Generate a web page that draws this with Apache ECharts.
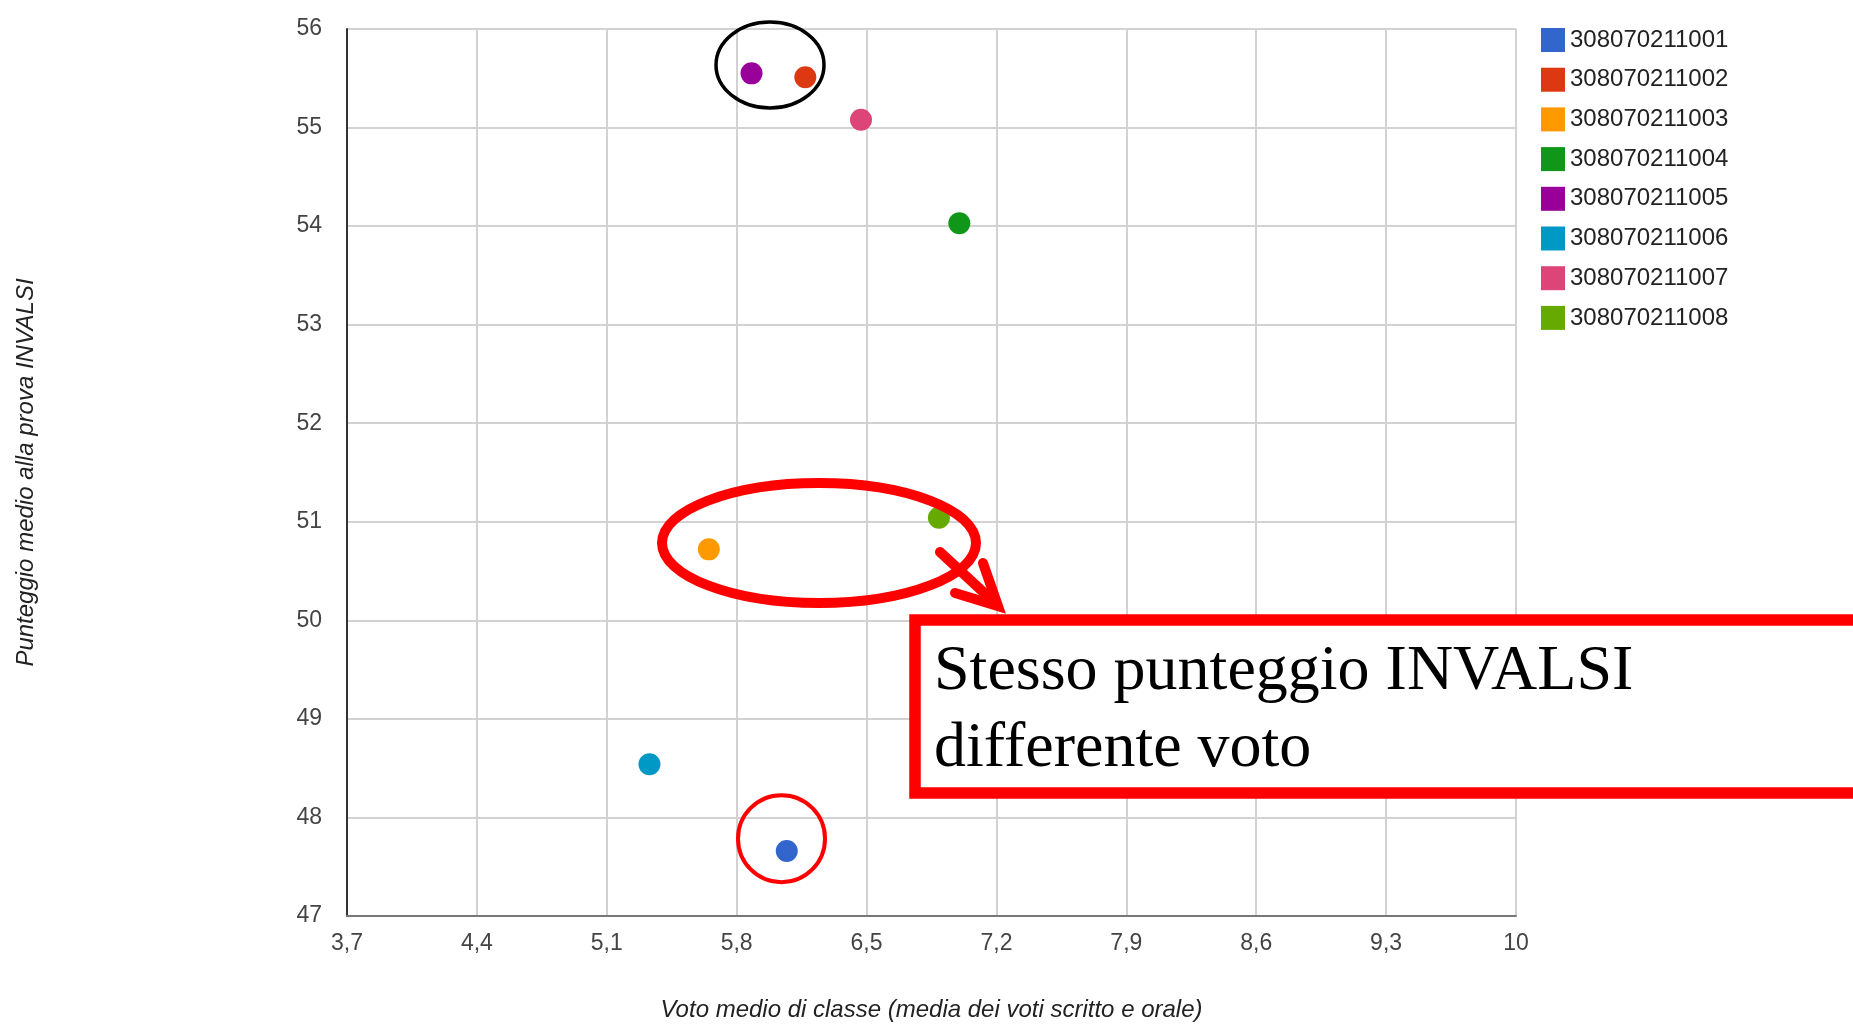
<!DOCTYPE html>
<html>
<head>
<meta charset="utf-8">
<style>
  html, body { margin: 0; padding: 0; background: #fff; }
  #chart { width: 1853px; height: 1027px; }
</style>
<script src="https://cdn.jsdelivr.net/npm/echarts@6/dist/echarts.min.js"></script>
</head>
<body>
<div id="chart"></div>
<script>
// ---- data ----
var seriesNames = ['308070211001','308070211002','308070211003','308070211004','308070211005','308070211006','308070211007','308070211008'];
var votoMedio = [6.07, 6.17, 5.65, 7.00, 5.88, 5.33, 6.47, 6.89];
var punteggioMedio = [47.66, 55.51, 50.72, 54.03, 55.55, 48.54, 55.08, 51.04];
var seriesColors = ['#3366cc','#dc3912','#ff9900','#109618','#990099','#0099c6','#dd4477','#66aa00'];
var xTickMin = 3.7, xTickMax = 10, xTickStep = 0.7;
var yTickMin = 47, yTickMax = 56, yTickStep = 1;
var xTitle = 'Voto medio di classe (media dei voti scritto e orale)';
var yTitle = 'Punteggio medio alla prova INVALSI';
var noteLines = ['Stesso punteggio INVALSI', 'differente voto'];

var chart = echarts.init(document.getElementById('chart'), null, { renderer: 'canvas' });

var series = seriesNames.map(function (name, i) {
  return {
    name: name,
    type: 'scatter',
    symbol: 'circle',
    symbolSize: 22,
    itemStyle: { color: seriesColors[i], opacity: 1 },
    data: [[votoMedio[i], punteggioMedio[i]]],
    z: 3
  };
});

var RED = '#ff0000';
var SERIF = '64px "Liberation Serif", "Times New Roman", serif';
var option = {
  animation: false,
  backgroundColor: '#ffffff',
  textStyle: { fontFamily: 'Liberation Sans, Arial, sans-serif' },
  grid: { left: 347, right: 337, top: 29, bottom: 106, containLabel: false },
  legend: {
    orient: 'vertical',
    left: 1541,
    top: 28,
    padding: 0,
    icon: 'rect',
    itemWidth: 24,
    itemHeight: 24,
    itemGap: 15.7,
    textStyle: { fontSize: 24, color: '#222', fontFamily: 'Liberation Sans, Arial, sans-serif' },
    data: seriesNames
  },
  xAxis: {
    type: 'value',
    min: xTickMin,
    max: xTickMax,
    interval: xTickStep,
    name: xTitle,
    nameLocation: 'middle',
    nameGap: 82,
    nameTextStyle: { fontSize: 24, fontStyle: 'italic', color: '#222' },
    axisLine: { show: true, onZero: false, lineStyle: { color: '#777', width: 2 } },
    axisTick: { show: false },
    axisLabel: {
      fontSize: 23, color: '#444', margin: 16,
      formatter: function (v) { return String(Math.round(v * 10) / 10).replace('.', ','); }
    },
    splitLine: { show: true, lineStyle: { color: '#d2d2d2', width: 2 } }
  },
  yAxis: {
    type: 'value',
    min: yTickMin,
    max: yTickMax,
    interval: yTickStep,
    name: yTitle,
    nameLocation: 'middle',
    nameGap: 309,
    nameTextStyle: { fontSize: 24, fontStyle: 'italic', color: '#222' },
    axisLine: { show: true, onZero: false, lineStyle: { color: '#333', width: 2 } },
    axisTick: { show: false },
    axisLabel: { fontSize: 23, color: '#444', margin: 25 },
    splitLine: { show: true, lineStyle: { color: '#d2d2d2', width: 2 } }
  },
  series: series,
  graphic: [
    { type: 'ellipse', shape: { cx: 770, cy: 65, rx: 54, ry: 43 },
      style: { fill: 'none', stroke: '#000', lineWidth: 3.5 }, z: 10 },
    { type: 'ellipse', shape: { cx: 819, cy: 543, rx: 157, ry: 60 },
      style: { fill: 'none', stroke: RED, lineWidth: 10 }, z: 10 },
    { type: 'circle', shape: { cx: 781.5, cy: 838.7, r: 43.5 },
      style: { fill: 'none', stroke: RED, lineWidth: 4 }, z: 10 },
    { type: 'line', shape: { x1: 940, y1: 552, x2: 994, y2: 602 },
      style: { stroke: RED, lineWidth: 10, lineCap: 'round' }, z: 10 },
    { type: 'polyline', shape: { points: [[955, 593], [998, 606], [983, 563]] },
      style: { fill: 'none', stroke: RED, lineWidth: 10, lineCap: 'round', lineJoin: 'miter', miterLimit: 10 }, z: 10 },
    { type: 'rect', shape: { x: 915, y: 620, width: 1000, height: 173 },
      style: { fill: '#ffffff', stroke: RED, lineWidth: 11.5 }, z: 11 },
    { type: 'text', x: 934, y: 672, z: 12,
      style: { text: noteLines[0], fill: '#000', font: SERIF, textAlign: 'left', textVerticalAlign: 'middle', verticalAlign: 'middle' } },
    { type: 'text', x: 934, y: 749, z: 12,
      style: { text: noteLines[1], fill: '#000', font: SERIF, textAlign: 'left', textVerticalAlign: 'middle', verticalAlign: 'middle' } }
  ]
};
chart.setOption(option);
</script>
</body>
</html>
